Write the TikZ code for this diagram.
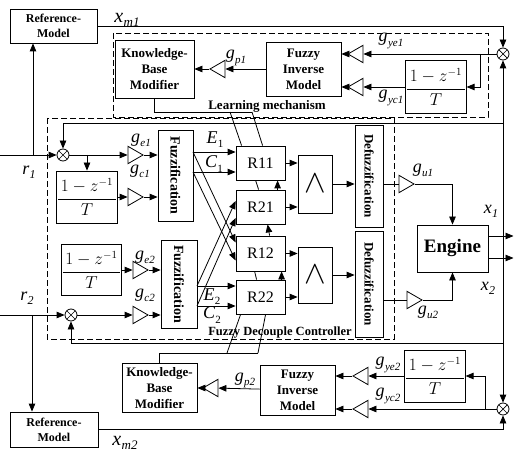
\documentclass[tikz,border=0pt]{standalone}
\usepackage{fontspec}
\setmainfont{Liberation Serif}
\usetikzlibrary{arrows.meta,shapes.geometric,calc}
\newcommand\lb[3][11]{\textit{#2}\kern0.3pt\raisebox{-0.5ex}{\fontsize{#1}{#1}\selectfont\textit{#3}}}
\newcommand\lbu[3][11]{\textit{#2}\kern0.3pt\raisebox{-0.5ex}{\fontsize{#1}{#1}\selectfont #3}}
\begin{document}
\begin{tikzpicture}[x=1pt,y=-1pt,line width=0.8pt,
 arr/.style={-{Triangle[length=8pt,width=6.5pt]}},
 blk/.style={draw,fill=white,inner sep=0pt,align=center,font=\bfseries\fontsize{13}{16}\selectfont},
 frac/.style={draw,fill=white,inner sep=0pt,font=\fontsize{16}{16}\selectfont},
 amp/.style={draw,fill=white,regular polygon,regular polygon sides=3,shape border rotate=-90,minimum size=20pt,inner sep=0pt},
 ampl/.style={amp,shape border rotate=90},
 sum/.style={draw,fill=white,circle,minimum size=12pt,inner sep=0pt,path picture={\draw[line width=0.7pt] (path picture bounding box.north west)--(path picture bounding box.south east) (path picture bounding box.south west)--(path picture bounding box.north east);}},
 dbox/.style={draw,dash pattern=on 6pt off 3pt,line width=0.9pt},
 lab/.style={font=\fontsize{18}{18}\selectfont,inner sep=0pt},
 rule/.style={draw,fill=white,minimum width=49pt,minimum height=34pt,inner sep=0pt,font=\fontsize{16}{16}\selectfont},
 andb/.style={draw,fill=white,minimum width=34pt,inner sep=0pt,font=\fontsize{24}{24}\selectfont},
 rtext/.style={rotate=-90,inner sep=0pt}
]
\useasboundingbox (0,0) rectangle (514,457);
% dashed frames
\draw[dbox] (113,33) rectangle (488,117);
\draw[dbox] (47,118) rectangle (394,339);
\node[font=\bfseries\fontsize{13}{13}\selectfont,inner sep=0pt] (tlm) at (267,106) {Learning mechanism};
\node[font=\bfseries\fontsize{12.5}{12.5}\selectfont,inner sep=0pt] (tfdc) at (280,333) {Fuzzy Decouple Controller};

% blocks
\node[blk,font=\bfseries\fontsize{12}{15}\selectfont,minimum width=87pt,minimum height=34pt] (ref1) at (53.5,26) {Reference-\\Model};
\node[blk,font=\bfseries\fontsize{12}{15}\selectfont,minimum width=88pt,minimum height=35pt] (ref2) at (54,429.5) {Reference-\\Model};
\node[blk,minimum width=79pt,minimum height=58pt] (kbm1) at (154.5,69) {Knowledge-\\Base\\Modifier};
\node[blk,minimum width=75pt,minimum height=54pt] (fim1) at (303.5,69) {Fuzzy\\Inverse\\Model};
\node[blk,minimum width=75pt,minimum height=49pt] (kbm2) at (159.5,388) {Knowledge-\\Base\\Modifier};
\node[blk,minimum width=75pt,minimum height=50pt] (fim2) at (297.5,390) {Fuzzy\\Inverse\\Model};
\node[frac,minimum width=58pt,minimum height=53pt] (F3) at (436,87) {$\displaystyle\frac{\,1-z^{-1}\,}{T}$};
\node[frac,minimum width=56pt,minimum height=52pt] (F4) at (435,376) {$\displaystyle\frac{\,1-z^{-1}\,}{T}$};
\node[frac,minimum width=58pt,minimum height=52pt] (F1) at (87,197) {$\displaystyle\frac{\,1-z^{-1}\,}{T}$};
\node[frac,minimum width=57pt,minimum height=51pt] (F2) at (91.5,270) {$\displaystyle\frac{\,1-z^{-1}\,}{T}$};
\node[blk,minimum width=35pt,minimum height=91pt] (fz1) at (175.5,175.5) {};
\node[rtext,font=\bfseries\fontsize{14}{14}\selectfont] (tfz1) at (fz1) {Fuzzification};
\node[blk,minimum width=36pt,minimum height=88pt] (fz2) at (179,284) {};
\node[rtext,font=\bfseries\fontsize{14}{14}\selectfont] (tfz2) at (fz2) {Fuzzification};
\node[rule] (R11) at (260.5,163) {R11};
\node[rule] (R21) at (260.5,207) {R21};
\node[rule,minimum height=35pt] (R12) at (260.5,253.5) {R12};
\node[rule] (R22) at (260.5,297) {R22};
\node[andb,minimum height=58pt] (and1) at (315,184) {\scalebox{1.3}{$\wedge$}};
\node[andb,minimum height=56pt] (and2) at (315,275) {\scalebox{1.3}{$\wedge$}};
\node[blk,minimum width=28pt,minimum height=102pt] (def1) at (369,176) {};
\node[rtext,font=\bfseries\fontsize{13}{13}\selectfont] (tdef1) at (def1) {Defuzzification};
\node[blk,minimum width=28pt,minimum height=106pt] (def2) at (369,284) {};
\node[rtext,font=\bfseries\fontsize{13}{13}\selectfont] (tdef2) at (def2) {Defuzzification};
\node[blk,font=\bfseries\fontsize{19}{19}\selectfont,minimum width=71pt,minimum height=47pt] (eng) at (452.5,248.5) {Engine};

% gains
\node[amp] (ge1) at (133,155) {};
\node[amp] (gc1) at (133,197) {};
\node[amp] (ge2) at (138,270) {};
\node[amp] (gc2) at (138,315) {};
\node[amp] (gu1) at (404,184) {};
\node[amp] (gu2) at (412,300) {};
\node[ampl] (gye1) at (358,54) {};
\node[ampl] (gyc1) at (358,87) {};
\node[ampl] (gp1) at (220,69) {};
\node[ampl] (gye2) at (363,376) {};
\node[ampl] (gyc2) at (363,409) {};
\node[ampl] (gp2) at (213,388) {};

% summing junctions
\node[sum] (sum1) at (503,54) {};
\node[sum] (sum2) at (503,409) {};
\node[sum] (sr1) at (63,155) {};
\node[sum] (sr2) at (71,315) {};

% coordinates
\coordinate (r1in) at (0,155);
\coordinate (r2in) at (0,315);
\coordinate (br1) at (33,155);
\coordinate (br2) at (32,315);
\coordinate (fb1) at (503,123);
\coordinate (fb2) at (503,343);
\coordinate (x1j) at (503,236);
\coordinate (x2j) at (503,258);
\coordinate (x1o) at (513.5,236);
\coordinate (x2o) at (513.5,258);
\coordinate (bt1) at (480,54);
\coordinate (bt2) at (485,409);
\coordinate (e1o) at (193,152);
\coordinate (c1o) at (193,172);
\coordinate (e2o) at (197,286);
\coordinate (c2o) at (197,306);
\coordinate (k1s) at (230,112);
\coordinate (k1e) at (252,112);
\coordinate (k2s) at (227,353);
\coordinate (k2e) at (258,353);

% input side
\draw[arr] (r1in) -- (sr1);
\draw[arr] (br1) -- (br1 |- ref1.south);
\draw[arr] (sr1) -- (ge1);
\draw[arr] (F1.north |- sr1) -- (F1.north);
\draw[arr] (ge1) -- (ge1 -| fz1.west);
\draw[arr] (F1) -- (gc1);
\draw[arr] (gc1) -- (gc1 -| fz1.west);
\draw[arr] (F2) -- (ge2);
\draw[arr] (ge2) -- (ge2 -| fz2.west);
\draw[arr] (r2in) -- (sr2);
\draw[arr] (br2) -- (br2 |- ref2.north);
\draw[arr] (sr2) -- (gc2);
\draw[arr] (gc2) -- (gc2 -| fz2.west);

% feedback and references
\draw[arr] (fb1) -| (sr1);
\draw[arr] (fb2) -| (sr2);
\draw[arr] (ref1) -| (sum1);
\draw[arr] (ref2) -| (sum2);
\draw[arr] (x1j) -- (sum1);
\draw[arr] (x2j) -- (sum2);
\draw (x1j) -- (x2j);
\draw[arr] (eng.east |- x1j) -- (x1o);
\draw[arr] (eng.east |- x2j) -- (x2o);

% learning mechanism 1
\draw[arr] (sum1) -- (gye1);
\draw[arr] (gye1) -- (gye1 -| fim1.east);
\draw[arr] (bt1) |- (F3);
\draw[arr] (F3) -- (gyc1);
\draw[arr] (gyc1) -- (gyc1 -| fim1.east);
\draw[arr] (fim1) -- (gp1);
\draw[arr] (gp1) -- (kbm1);
% learning mechanism 2
\draw[arr] (sum2) -- (gyc2);
\draw[arr] (gyc2) -- (gyc2 -| fim2.east);
\draw[arr] (bt2) |- (F4);
\draw[arr] (F4) -- (gye2);
\draw[arr] (gye2) -- (gye2 -| fim2.east);
\draw[arr] (fim2) -- (gp2);
\draw[arr] (gp2) -- (kbm2);

% fuzzification to rules
\draw[arr] (e1o) -- (e1o -| R11.west);
\draw[arr] (c1o) -- (c1o -| R11.west);
\draw[arr] (e1o) -- ($(R12.west)+(0,-11)$);
\draw[arr] (c1o) -- ($(R12.west)+(0,7)$);
\draw[arr] (e2o) -- (e2o -| R22.west);
\draw[arr] (c2o) -- (c2o -| R22.west);
\draw[arr] (e2o) -- ($(R21.west)+(0,-6)$);
\draw[arr] (c2o) -- ($(R21.west)+(0,11)$);

% rules to min
\draw[arr] (R11) -- (R11 -| and1.west);
\draw[arr] (R21) -- (R21 -| and1.west);
\draw[arr] (R12) -- (R12 -| and2.west);
\draw[arr] (R22) -- (R22 -| and2.west);
\draw[arr] (and1) -- (and1 -| def1.west);
\draw[arr] (and2) -- (and2 -| def2.west);

% defuzz to engine
\draw (def1.east |- gu1) -- (gu1);
\draw[arr] (gu1) -| (eng);
\draw (def2.east |- gu2) -- (gu2);
\draw[arr] (gu2) -| (eng);

% knowledge base modifier links
\draw (kbm1) |- (k1e);
\draw (k1s) -- ($(R11.north west)+(6,0)$);
\draw (k1e) -- ($(R11.north west)+(27,0)$);
\draw ($(R11.south west)+(20,0)$) -- ($(R21.north west)+(23,0)$);
\draw[arr] ($(R21.north west)+(42,0)$) -- ($(R11.south west)+(42,0)$);
\draw[arr] ($(R12.north west)+(34,0)$) -- ($(R21.south west)+(32,0)$);
\draw ($(R22.north west)+(21,0)$) -- ($(R12.south west)+(19,0)$);
\draw[arr] ($(R22.north west)+(46,0)$) -- ($(R12.south west)+(46,0)$);
\draw (kbm2) |- (k2e);
\draw (k2s) -- ($(R22.south west)+(5,0)$);
\draw (k2e) -- ($(R22.south west)+(30,0)$);

% labels
\node[lab,font=\fontsize{20}{20}\selectfont] (lxm1) at (127,20) {\lb[13]{x}{m1}};
\node[lab,font=\fontsize{20}{20}\selectfont] (lxm2) at (125,443) {\lb[13]{x}{m2}};
\node[lab] (lr1) at (29,172) {\lb[12]{r}{1}};
\node[lab] (lr2) at (27,298) {\lb[12]{r}{2}};
\node[lab] (lx1) at (491,211) {\lb[12]{x}{1}};
\node[lab] (lx2) at (488,288) {\lb[12]{x}{2}};
\node[lab] (lge1) at (141,140) {\lb{g}{e1}};
\node[lab] (lgc1) at (140,171) {\lb{g}{c1}};
\node[lab] (lge2) at (145,257) {\lb{g}{e2}};
\node[lab] (lgc2) at (145,295) {\lb{g}{c2}};
\node[lab] (lgu1) at (423,170) {\lb{g}{u1}};
\node[lab] (lgu2) at (428,312) {\lb{g}{u2}};
\node[lab] (lgp1) at (236,58) {\lb{g}{p1}};
\node[lab] (lgp2) at (245,380) {\lb{g}{p2}};
\node[lab] (lgye1) at (391,41) {\lb{g}{ye1}};
\node[lab] (lgyc1) at (391,98) {\lb{g}{yc1}};
\node[lab] (lgye2) at (388,365) {\lb{g}{ye2}};
\node[lab] (lgyc2) at (388,396) {\lb{g}{yc2}};
\node[lab] (lE1) at (215,140) {\lbu{E}{1}};
\node[lab] (lC1) at (214,164) {\lbu{C}{1}};
\node[lab] (lE2) at (212,297) {\lbu{E}{2}};
\node[lab] (lC2) at (212,315) {\lbu{C}{2}};
\end{tikzpicture}
\end{document}
